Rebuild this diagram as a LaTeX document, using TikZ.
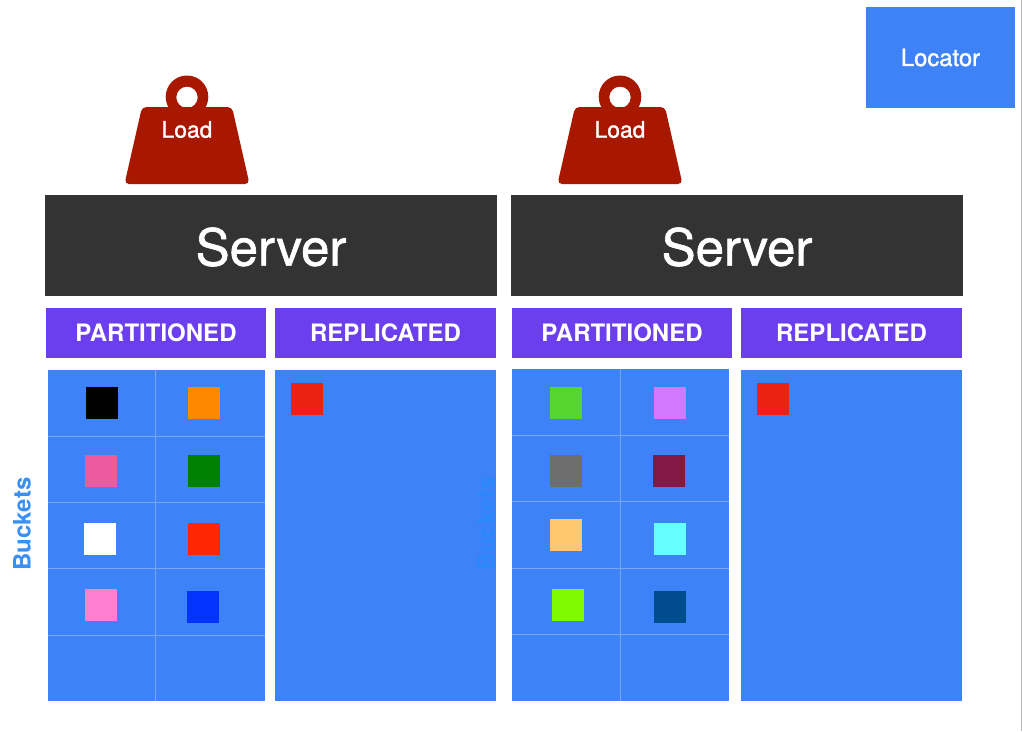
\documentclass[tikz,border=0pt]{standalone}
\usepackage{fontspec}
\setmainfont{TeX Gyre Heros}
\newfontfamily\medfont[FakeBold=1.2]{TeX Gyre Heros}
\definecolor{panelblue}{HTML}{3D82F7}
\definecolor{serverdark}{HTML}{333333}
\definecolor{headpurple}{HTML}{6B3FEE}
\definecolor{weightred}{HTML}{A81700}
\definecolor{gridline}{HTML}{7AA5F0}
\definecolor{bucketa}{HTML}{3A90F0}
\definecolor{bucketb}{HTML}{2A88FA}
\definecolor{edgegrey}{HTML}{B4B4B4}
\definecolor{cA}{HTML}{FF8800}
\definecolor{cB}{HTML}{EE5AA0}
\definecolor{cC}{HTML}{008000}
\definecolor{cD}{HTML}{FF2600}
\definecolor{cE}{HTML}{FF7FD0}
\definecolor{cF}{HTML}{0433FF}
\definecolor{cG}{HTML}{55D530}
\definecolor{cH}{HTML}{D278FF}
\definecolor{cI}{HTML}{6E6E6E}
\definecolor{cJ}{HTML}{861848}
\definecolor{cK}{HTML}{FFC86E}
\definecolor{cL}{HTML}{66FFFF}
\definecolor{cM}{HTML}{80FA00}
\definecolor{cN}{HTML}{004C8C}
\definecolor{cO}{HTML}{EC2111}
\tikzset{
  x=1pt,y=-1pt,
  box/.style={rectangle,inner sep=0pt,outer sep=0pt,draw=none},
  sq/.style={box,minimum width=32pt,minimum height=32pt},
  serverbox/.style={box,fill=serverdark,text=white,minimum width=452pt,minimum height=101pt,font=\fontsize{51}{51}\medfont},
  headbox/.style={box,fill=headpurple,text=white,minimum height=50pt,font=\fontsize{24}{24}\selectfont\bfseries},
  panel/.style={box,fill=panelblue},
  grid line/.style={gridline,line width=0.9pt},
  bucket label/.style={box,rotate=90,font=\fontsize{24}{24}\selectfont\bfseries},
  loadlabel/.style={box,text=white,font=\fontsize{22.8}{22.8}\medfont},
}
\newcommand{\weightshape}[1]{%
  \fill[weightred,even odd rule,shift={(#1,0)}]
    (0,96.8) circle[radius=21.3] (0,97.3) circle[radius=10.7];
  \fill[weightred,rounded corners=4.5pt,shift={(#1,0)}]
    (-45,107) -- (45,107) -- (62.5,184) -- (-62.5,184) -- cycle;
}
\begin{document}
\begin{tikzpicture}
\useasboundingbox (0,0) rectangle (1022,731);
\fill[white] (0,0) rectangle (1022,731);
\fill[edgegrey] (1020.6,0) rectangle (1022,731);

% locator
\node[box,fill=panelblue,text=white,minimum width=149pt,minimum height=101pt,font=\fontsize{23.8}{23.8}\medfont] (locator) at (940.5,57.5) {Locator};

% weights
\weightshape{187}
\weightshape{620}
\node[loadlabel] (loadA) at (187,129.5) {Load};
\node[loadlabel] (loadB) at (620,129.5) {Load};

% servers
\node[serverbox] (serverA) at (271,245.5) {\raisebox{-1.5pt}[\height][\depth]{Server}};
\node[serverbox] (serverB) at (737,245.5) {\raisebox{-1.5pt}[\height][\depth]{Server}};

% headers
\node[headbox,minimum width=220pt] (partA) at (156,333) {PARTITIONED};
\node[headbox,minimum width=221pt] (replA) at (385.5,333) {REPLICATED};
\node[headbox,minimum width=220pt] (partB) at (622,333) {PARTITIONED};
\node[headbox,minimum width=221pt] (replB) at (851.5,333) {REPLICATED};

% panels
\node[panel,minimum width=217pt,minimum height=331.5pt] (panelPA) at (156,535.25) {};
\node[panel,minimum width=221pt,minimum height=331pt] (panelRA) at (385.5,535.5) {};
\node[panel,minimum width=216.5pt,minimum height=332pt] (panelPB) at (620.25,535) {};
\node[panel,minimum width=221pt,minimum height=331pt] (panelRB) at (851.5,535.5) {};

% grid lines
\draw[grid line] (155.5,369.5) -- (155.5,701);
\foreach \yy in {436,502,568.5,635} \draw[grid line] (47.5,\yy) -- (264.5,\yy);
\draw[grid line] (620,369) -- (620,701);
\foreach \yy in {435,501,568,634} \draw[grid line] (512,\yy) -- (728.5,\yy);

% buckets labels
\node[bucket label,text=bucketa] (bucketsA) at (22,524) {Buckets};
\node[bucket label,text=bucketb] (bucketsB) at (486,523.5) {Buckets};

% left partitioned squares
\node[sq,fill=black] (a1) at (101.5,402.5) {};
\node[sq,fill=cA] (a2) at (204,403) {};
\node[sq,fill=cB] (a3) at (101,470.5) {};
\node[sq,fill=cC] (a4) at (204,470.5) {};
\node[sq,fill=white] (a5) at (100,539) {};
\node[sq,fill=cD] (a6) at (204,539) {};
\node[sq,fill=cE] (a7) at (101,605) {};
\node[sq,fill=cF] (a8) at (203,607) {};
% right partitioned squares
\node[sq,fill=cG] (b1) at (566,402.5) {};
\node[sq,fill=cH] (b2) at (670,403) {};
\node[sq,fill=cI] (b3) at (566,470.5) {};
\node[sq,fill=cJ] (b4) at (669,470.5) {};
\node[sq,fill=cK] (b5) at (566,535) {};
\node[sq,fill=cL] (b6) at (670,539) {};
\node[sq,fill=cM] (b7) at (568,605) {};
\node[sq,fill=cN] (b8) at (670,607) {};
% replicated squares
\node[sq,fill=cO] (ra) at (307,399) {};
\node[sq,fill=cO] (rb) at (773,399) {};
\end{tikzpicture}
\end{document}
